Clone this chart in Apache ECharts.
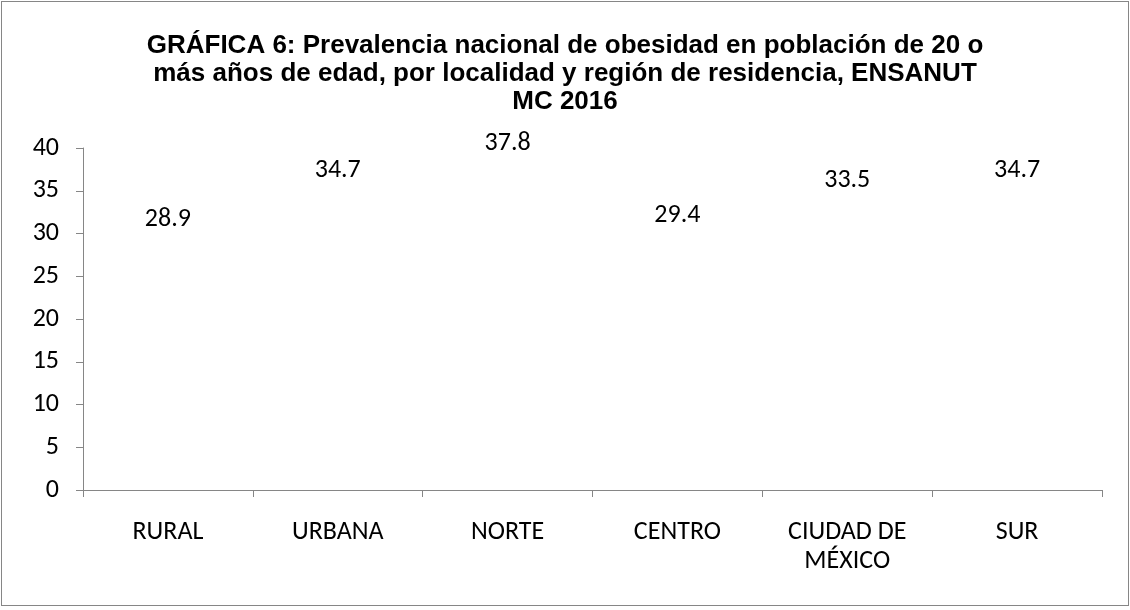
<!DOCTYPE html>
<html lang="es">
<head>
<meta charset="UTF-8">
<title>Gráfica 6</title>
<script src="https://cdn.jsdelivr.net/npm/echarts@6/dist/echarts.min.js"></script>
<style>
  html, body { margin: 0; padding: 0; background: #fff; }
  #main { position: absolute; left: 1px; top: 1px; width: 1126px; height: 603px; border: 1px solid #868686; }
</style>
</head>
<body>
<div id="main"></div>
<script>
// datos
var categorias = ['RURAL', 'URBANA', 'NORTE', 'CENTRO', 'CIUDAD DE\nMÉXICO', 'SUR'];
var obesidad = [28.9, 34.7, 37.8, 29.4, 33.5, 34.7];
var tituloTexto = 'GRÁFICA 6: Prevalencia nacional de obesidad en población de 20 o\nmás años de edad, por localidad y región de residencia, ENSANUT\nMC 2016';

var fuente = 'Carlito, Lato, Open Sans, sans-serif';

var chart = echarts.init(document.getElementById('main'));
chart.setOption({
  animation: false,
  title: {
    text: tituloTexto,
    left: 'center',
    top: 25,
    textStyle: {
      fontFamily: 'Liberation Sans, Arial, sans-serif',
      fontWeight: 'bold',
      fontSize: 26,
      lineHeight: 28,
      color: '#000'
    }
  },
  grid: { left: 81, right: 26, top: 146, bottom: 115 },
  xAxis: {
    type: 'category',
    data: categorias,
    axisLine: { lineStyle: { color: '#868686', width: 1 } },
    axisTick: { show: true, length: 7, lineStyle: { color: '#868686' } },
    axisLabel: {
      margin: 28,
      color: '#000',
      fontFamily: fuente,
      fontSize: 26,
      lineHeight: 29
    }
  },
  yAxis: {
    type: 'value',
    min: 0,
    max: 40,
    interval: 5,
    splitLine: { show: false },
    axisLine: { show: true, lineStyle: { color: '#868686', width: 1 } },
    axisTick: { show: true, length: 7, lineStyle: { color: '#868686' } },
    axisLabel: {
      margin: 24,
      color: '#000',
      fontFamily: fuente,
      fontSize: 26
    }
  },
  series: [{
    type: 'bar',
    data: obesidad,
    barWidth: '60%',
    itemStyle: { color: 'rgba(255,255,255,0)' },
    label: {
      show: true,
      position: 'top',
      distance: 10,
      color: '#000',
      fontFamily: fuente,
      fontSize: 26
    }
  }]
});
</script>
</body>
</html>
